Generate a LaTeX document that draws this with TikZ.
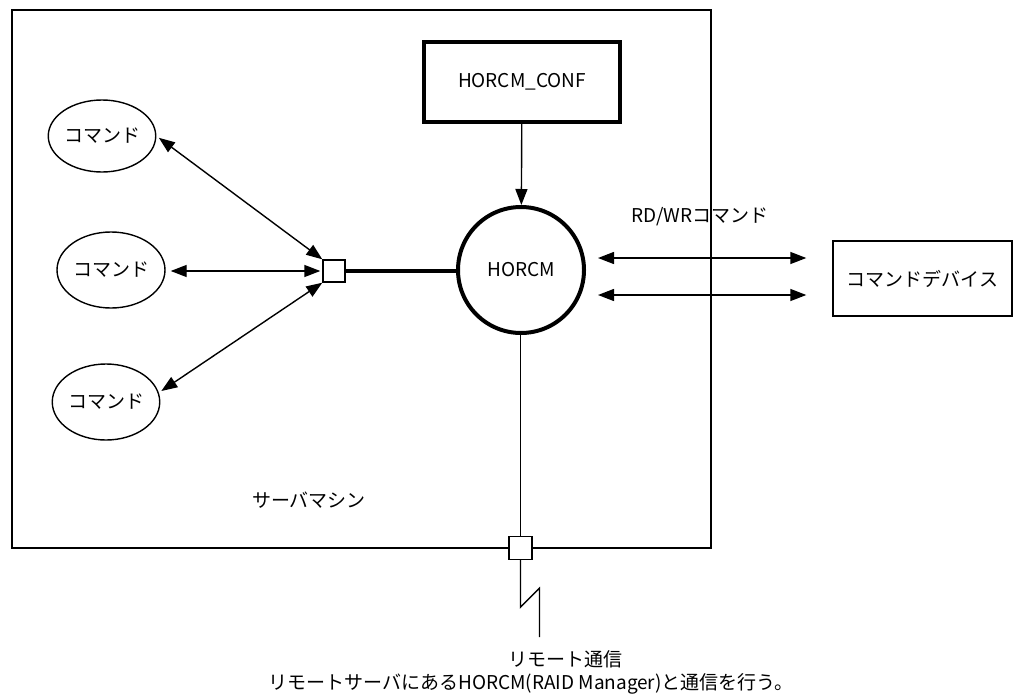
\documentclass[tikz,border=0pt]{standalone}
\usepackage{fontspec}
\setmainfont{Noto Sans CJK JP}
\usepackage{tikz}
\usetikzlibrary{arrows.meta, shapes, calc}
\tikzset{>={Triangle[length=16pt,width=12pt]}, font=\fontsize{19}{22}\selectfont}
\tikzset{cmd/.style={shape=ellipse, draw, line width=1.4pt, inner sep=0pt},
  port/.style={shape=rectangle, draw, line width=1.4pt, fill=white, inner sep=0pt},
  lbl/.style={inner sep=0pt}}

\begin{document}
\begin{tikzpicture}[x=1pt, y=-1pt]
      \useasboundingbox (0,0) rectangle (1025,696);
      % server machine
      \draw[line width=1.4pt] (12,10) rectangle (711,548);
      \node[lbl] (server) at (309,500) {サーバマシン};
      \node[draw, line width=4pt, minimum width=196pt, minimum height=80pt] (conf) at (522,82) {HORCM\_CONF};
      \node[circle, draw, line width=4pt, minimum size=126pt, inner sep=0pt] (horcm) at (521,270) {HORCM};
      \node[port, minimum size=22pt] (port) at (334,271) {};
      \node[cmd, minimum width=101pt, minimum height=72pt] (cmd1) at (102,136) {コマンド};
      \node[cmd, minimum width=108pt, minimum height=76pt] (cmd2) at (111,270) {コマンド};
      \node[cmd, minimum width=104pt, minimum height=76pt] (cmd3) at (106,402) {コマンド};
      \path[draw, ->, line width=1.4pt] (conf) -- (horcm);
      \path[draw, line width=4pt] (port) -- (port -| horcm.west);
      \path[draw, <->, line width=1.4pt, shorten <=3pt] (cmd1.east) -- (port.north west);
      \path[draw, <->, line width=1.4pt, shorten <=5pt, shorten >=2pt] (cmd2.east |- port) -- (port.west);
      \path[draw, <->, line width=1.4pt, shorten <=3pt] (cmd3.10) -- (port.south west);
      % command device
      \node[draw, line width=1.4pt, minimum width=179pt, minimum height=75pt] (dev) at (922.5,278.5) {コマンドデバイス};
      \node[lbl] (rw) at (700,217) {RD/WRコマンド};
      \path[draw, <->, line width=1.4pt, shorten <=12pt, shorten >=26pt] ([yshift=12pt]horcm.east) -- ([yshift=20.5pt]dev.west);
      \path[draw, <->, line width=1.4pt, shorten <=12pt, shorten >=26pt] ([yshift=-25pt]horcm.east) -- ([yshift=-16.5pt]dev.west);
      % remote
      \node[port, minimum size=23pt] (rport) at (520.5,548) {};
      \path[draw, line width=1.4pt] (horcm.south -| rport) -- (rport);
      \coordinate (rtop) at (539.5,637);
      \path[draw, line width=1.4pt] (rport.south) -- ++(0,47) -- ++(19,-19) -- (rtop);
      \node[lbl] (remote) at (565,659) {リモート通信};
      \node[lbl] (remote2) at (531,684) {リモートサーバにあるHORCM(RAID Manager)と通信を行う。};
\end{tikzpicture}
\end{document}
